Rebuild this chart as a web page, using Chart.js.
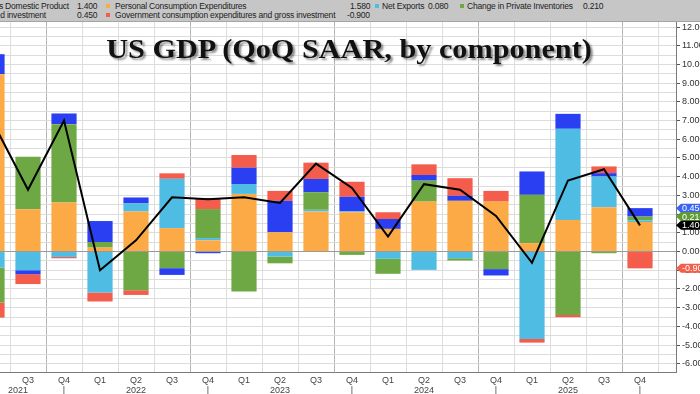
<!DOCTYPE html>
<html>
<head>
<meta charset="utf-8">
<script src="https://cdn.jsdelivr.net/npm/chart.js@4.4.1/dist/chart.umd.min.js"></script>
<style>
  body { margin: 0; width: 700px; height: 394px; overflow: hidden; position: relative; background: #fff; font-family: "Liberation Sans", Arial, sans-serif; }
  #myChart { position: absolute; left: -20px; top: 0; }
  #legend { position: absolute; left: 0; top: 0; width: 700px; height: 21px; background: #c6c6c6; border-bottom: 1px solid #a5a5a5; z-index: 2; font-size: 8.5px; letter-spacing: -0.2px; color: #222; }
  #legend span { position: absolute; white-space: nowrap; line-height: 9px; }
  #legend i { position: absolute; width: 4px; height: 4px; }
  #title { position: absolute; left: 349px; top: 36px; z-index: 2; white-space: nowrap; font-family: "Liberation Serif", "Times New Roman", serif; font-weight: bold; font-size: 27px; line-height: 27px; color: #111; transform: translateX(-50%) scaleX(1.12); text-shadow: 2px 2px 2px rgba(0,0,0,0.45); }
</style>
</head>
<body>
<div id="legend"></div>
<div id="title">US GDP (QoQ SAAR, by component)</div>
<canvas id="myChart" width="736" height="394"></canvas>
<script>
// Q2 2021 .. Q4 2025, plus one empty slot at the right edge
let quarterLabels = ['Q2','Q3','Q4','Q1','Q2','Q3','Q4','Q1','Q2','Q3','Q4','Q1','Q2','Q3','Q4','Q1','Q2','Q3','Q4',''];
let yearLabels = ['', '2021        ', '|', '', '2022', '', '|', '', '2023', '', '|', '', '2024', '', '|', '', '2025', '', '|', ''];

let pce =         [9.48, 2.26, 2.62, 0.21, 2.14, 1.25, 0.60, 3.08, 1.03, 2.14, 2.10, 1.21, 2.67, 2.71, 2.67, 0.45, 1.69, 2.37, 1.58, null];
let netExports =  [-0.86, -1.00, -0.29, -2.19, 0.43, 2.64, 0.12, 0.53, -0.27, 0.09, 0.05, -0.39, -0.98, -0.36, 0.00, -4.67, 4.87, 1.64, 0.08, null];
let inventories = [-1.87, 2.80, 4.19, 0.30, -2.07, -0.89, 1.55, -2.14, -0.36, 0.94, -0.18, -0.80, 1.12, -0.12, -0.94, 2.58, -3.39, -0.09, 0.21, null];
let fixedInv =    [1.07, -0.21, 0.57, 1.12, 0.32, -0.36, -0.09, 0.87, 1.68, 0.71, 0.78, 0.53, 0.30, 0.27, -0.34, 1.25, 0.80, 0.18, 0.45, null];
let government =  [-0.80, -0.53, -0.07, -0.48, -0.25, 0.29, 0.59, 0.68, 0.53, 0.87, 0.80, 0.36, 0.57, 0.94, 0.57, -0.20, -0.12, 0.36, -0.90, null];
let gdp =         [7.0, 3.3, 7.0, -1.0, 0.6, 2.9, 2.8, 2.9, 2.6, 4.7, 3.4, 0.8, 3.6, 3.3, 1.9, -0.6, 3.8, 4.4, 1.4, null];

let LAST = 18;
let ORANGE = '#fbaa45', CYAN = '#4fbde3', GREEN = '#6ea844', BLUE = '#2a3ff2', RED = '#f45c4c';

// legend band, values taken from the last quarter
let legend = document.getElementById('legend');
function addText(txt, x, y, alignRight) {
    let s = document.createElement('span');
    s.textContent = txt;
    s.style.top = y + 'px';
    if (alignRight) s.style.right = (700 - x) + 'px'; else s.style.left = x + 'px';
    legend.appendChild(s);
}
function addMark(color, x, y) {
    let m = document.createElement('i');
    m.style.left = x + 'px'; m.style.top = y + 'px'; m.style.background = color;
    legend.appendChild(m);
}
addText('Gross Domestic Product', 69, 2, true);
addText(gdp[LAST].toFixed(3), 77, 2);
addMark(ORANGE, 106, 4);
addText('Personal Consumption Expenditures', 115, 2);
addText(pce[LAST].toFixed(3), 350, 2);
addMark(CYAN, 375, 4);
addText('Net Exports', 382, 2);
addText(netExports[LAST].toFixed(3), 428, 2);
addMark(GREEN, 460, 4);
addText('Change in Private Inventories', 467, 2);
addText(inventories[LAST].toFixed(3), 583, 2);
addText('Fixed investment', 46, 11, true);
addText(fixedInv[LAST].toFixed(3), 77, 11);
addMark(RED, 106, 13);
addText('Government consumption expenditures and gross investment', 115, 11);
addText(government[LAST].toFixed(3), 347, 11);

// coloured last-value tags on the right axis
const valueTags = {
    id: 'valueTags',
    afterDraw(chart) {
        let ctx = chart.ctx;
        let x0 = chart.chartArea.right;
        [3, 2, 5, 4].forEach((i) => {
            let el = chart.getDatasetMeta(i).data[LAST];
            let ds = chart.data.datasets[i];
            let y = el.y;
            ctx.save();
            ctx.fillStyle = ds.tagColor;
            ctx.beginPath();
            ctx.moveTo(x0, y);
            ctx.lineTo(x0 + 5, y - 4.5);
            ctx.lineTo(x0 + 60, y - 4.5);
            ctx.lineTo(x0 + 60, y + 4.5);
            ctx.lineTo(x0 + 5, y + 4.5);
            ctx.closePath();
            ctx.fill();
            ctx.fillStyle = '#fff';
            ctx.font = '9px "Liberation Sans", Arial, sans-serif';
            ctx.textBaseline = 'middle';
            ctx.fillText(ds.data[LAST].toFixed(3), x0 + 6, y + 0.5);
            ctx.restore();
        });
    }
};

let labels = quarterLabels.map((q, i) => [q, yearLabels[i]]);

const ctx = document.getElementById('myChart').getContext('2d');
const myChart = new Chart(ctx, {
    type: 'bar',
    data: {
        labels: labels,
        datasets: [
            { label: 'Personal Consumption Expenditures', data: pce, backgroundColor: ORANGE, order: 1, tagColor: ORANGE },
            { label: 'Net Exports', data: netExports, backgroundColor: CYAN, order: 1, tagColor: CYAN },
            { label: 'Change in Private Inventories', data: inventories, backgroundColor: GREEN, order: 1, tagColor: '#5f9a35' },
            { label: 'Fixed investment', data: fixedInv, backgroundColor: BLUE, order: 1, tagColor: '#3b63f2' },
            { label: 'Government consumption expenditures and gross investment', data: government, backgroundColor: RED, order: 1, tagColor: '#f25f4a' },
            { type: 'line', label: 'Gross Domestic Product', data: gdp, borderColor: '#000', backgroundColor: '#000', borderWidth: 2, pointRadius: 0, tension: 0, order: 0, stack: 'gdp', tagColor: '#000' }
        ]
    },
    options: {
        responsive: false,
        animation: false,
        devicePixelRatio: 1,
        layout: { padding: { left: 12, top: 22, right: 0, bottom: 0 } },
        datasets: { bar: { categoryPercentage: 1, barPercentage: 0.7 } },
        plugins: { legend: { display: false }, tooltip: { enabled: false } },
        scales: {
            x: {
                stacked: true,
                offset: false,
                grid: {
                    color: (c) => (c.index % 4 === 2 ? '#b4b4b4' : '#dedede'),
                    drawTicks: false
                },
                border: { color: '#7a7a7a' },
                ticks: {
                    autoSkip: false, maxRotation: 0, padding: 3, color: '#444',
                    font: { family: '"Liberation Sans", Arial, sans-serif', size: 9, lineHeight: 1.15 }
                },
                afterFit(scale) { scale.height = 22; }
            },
            y: {
                stacked: true,
                position: 'right',
                min: -6.44,
                max: 12.27,
                ticks: {
                    stepSize: 0.5,
                    includeBounds: false,
                    autoSkip: false,
                    padding: 2,
                    color: '#333',
                    font: { family: '"Liberation Sans", Arial, sans-serif', size: 9 },
                    callback: (v) => (Number.isInteger(v) ? v.toFixed(3) : '')
                },
                grid: {
                    color: (c) => (c.tick && c.tick.value === 0 ? '#9a9a9a' : '#dcdcdc'),
                    tickColor: (c) => (c.tick && Number.isInteger(c.tick.value) ? '#555' : 'rgba(0,0,0,0)'),
                    tickLength: 4
                },
                border: { color: '#7a7a7a' },
                afterBuildTicks(scale) {
                    scale.ticks = scale.ticks.filter((t) => Math.abs(t.value * 2 - Math.round(t.value * 2)) < 1e-6);
                },
                afterFit(scale) { scale.width = 40; }
            }
        }
    },
    plugins: [valueTags]
});
</script>
</body>
</html>
